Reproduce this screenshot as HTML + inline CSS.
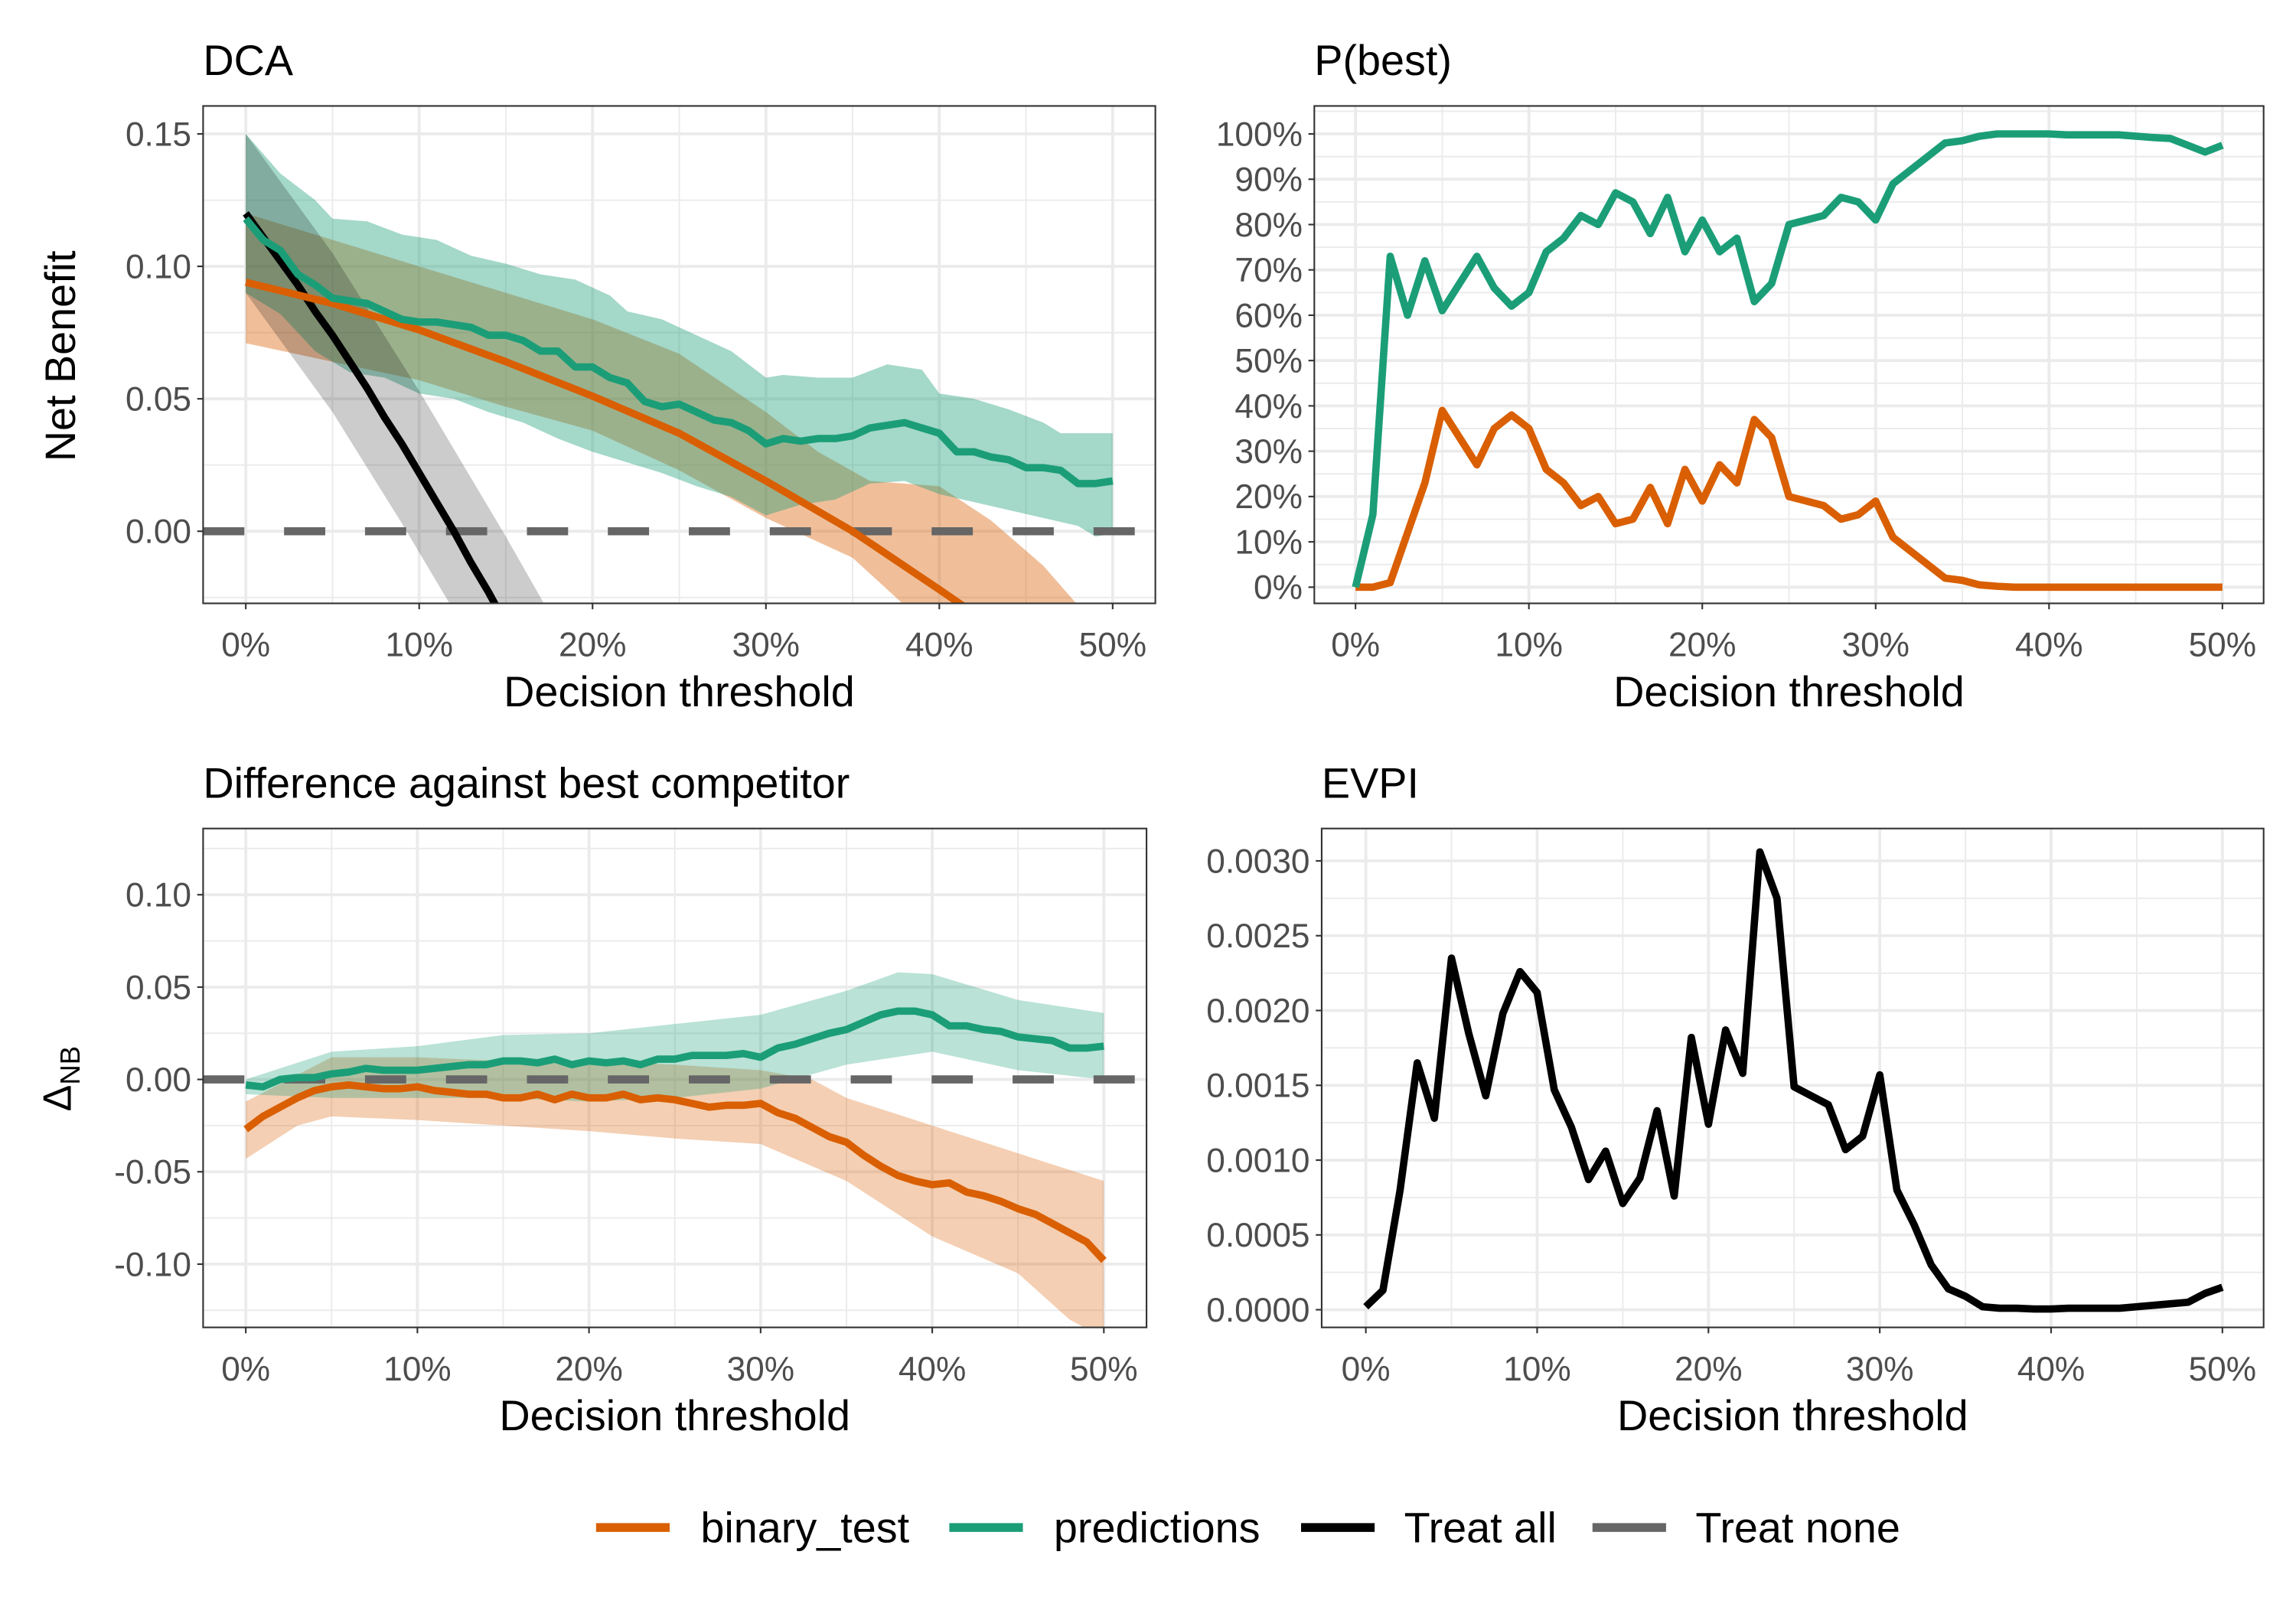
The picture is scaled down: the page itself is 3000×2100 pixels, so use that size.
<!DOCTYPE html>
<html><head><meta charset="utf-8"><style>
html,body{margin:0;padding:0;background:#fff}
svg{display:block}
text{font-family:"Liberation Sans",sans-serif}
</style></head><body>
<svg id="fig" width="3000" height="2100" viewBox="0 0 1560 1092" xmlns="http://www.w3.org/2000/svg"></svg>
<script>
// ---------- data ----------
const thresholds = Array.from({length:51},(_,i)=>i); // percent
const treatAllT = [0,1,2,3,4,5,6,7,8,9,10,11,12,13,14,15,16];
const treatAllNB = [0.12,0.111,0.102,0.093,0.083,0.074,0.064,0.054,0.043,0.033,0.022,0.011,0.0,-0.012,-0.023,-0.035,-0.047];
const treatAllUpT=[0,5,10,15,17,19]; const treatAllUp=[0.15,0.105,0.053,-0.002,-0.025,-0.05];
const treatAllLoT=[0,5,9,10,12,13]; const treatAllLo=[0.09,0.045,0.003,-0.008,-0.03,-0.04];
const predNB=[0.118,0.11,0.106,0.097,0.093,0.088,0.087,0.086,0.083,0.080,0.079,0.079,0.078,0.077,0.074,0.074,0.072,0.068,0.068,0.062,0.062,0.058,0.056,0.049,0.047,0.048,0.045,0.042,0.041,0.038,0.033,0.035,0.034,0.035,0.035,0.036,0.039,0.040,0.041,0.039,0.037,0.030,0.030,0.028,0.027,0.024,0.024,0.023,0.018,0.018,0.019];
const predUpT=[0,2,4,5,7,9,11,13,15,17,19,21,22,24,26,28,30,31,33,35,37,39,40,42,44,46,47,50];
const predUp=[0.15,0.135,0.125,0.118,0.117,0.112,0.110,0.104,0.101,0.097,0.095,0.089,0.083,0.080,0.074,0.068,0.058,0.059,0.058,0.058,0.063,0.061,0.052,0.050,0.046,0.041,0.037,0.037];
const predLoT=[0,2,4,6,8,10,12,14,16,18,20,22,24,26,28,30,32,34,36,38,40,42,44,46,48,49,50];
const predLo=[0.09,0.082,0.068,0.060,0.058,0.052,0.050,0.045,0.041,0.035,0.030,0.026,0.022,0.017,0.013,0.006,0.010,0.012,0.018,0.019,0.014,0.011,0.008,0.005,0.002,-0.002,-0.001];
const binT=[0,5,10,15,20,25,30,35,40,42,44];
const binNB=[0.094,0.086,0.076,0.064,0.051,0.037,0.019,0.0,-0.022,-0.031,-0.04];
const binUpT=[0,10,20,25,30,33,36,40,43,46,48,50]; const binUp=[0.12,0.10,0.080,0.067,0.045,0.030,0.019,0.017,0.004,-0.013,-0.028,-0.04];
const binLoT=[0,5,10,15,20,25,30,35,38,40]; const binLo=[0.071,0.064,0.057,0.047,0.038,0.023,0.005,-0.010,-0.028,-0.04];

const pbestPred=[0,16,73,60,72,61,67,73,66,62,65,74,77,82,80,87,85,78,86,74,81,74,77,63,67,80,81,82,86,85,81,89,92,95,98,98.5,99.5,100,100,100,100,99.8,99.8,99.8,99.8,99.5,99.2,99,97.5,96,97.5];
const pbestBin=[0,0,1,12,23,39,33,27,35,38,35,26,23,18,20,14,15,22,14,26,19,27,23,37,33,20,19,18,15,16,19,11,8,5,2,1.5,0.5,0.2,0,0,0,0,0,0,0,0,0,0,0,0,0];

const dPred=[-0.003,-0.004,0.0,0.001,0.001,0.003,0.004,0.006,0.005,0.005,0.005,0.006,0.007,0.008,0.008,0.010,0.010,0.009,0.011,0.008,0.010,0.009,0.010,0.008,0.011,0.011,0.013,0.013,0.013,0.014,0.012,0.017,0.019,0.022,0.025,0.027,0.031,0.035,0.037,0.037,0.035,0.029,0.029,0.027,0.026,0.023,0.022,0.021,0.017,0.017,0.018];
const dPredUpT=[0,5,10,15,20,25,30,35,38,40,45,50]; const dPredUp=[0.0,0.015,0.018,0.024,0.025,0.030,0.035,0.048,0.058,0.057,0.043,0.036];
const dPredLoT=[0,5,10,15,20,25,30,35,40,45,50]; const dPredLo=[-0.008,-0.010,-0.010,-0.010,-0.012,-0.010,-0.005,0.008,0.015,0.005,0.0];
const dBin=[-0.027,-0.02,-0.015,-0.010,-0.006,-0.004,-0.003,-0.004,-0.005,-0.005,-0.004,-0.006,-0.007,-0.008,-0.008,-0.010,-0.010,-0.008,-0.011,-0.008,-0.010,-0.010,-0.008,-0.011,-0.010,-0.011,-0.013,-0.015,-0.014,-0.014,-0.013,-0.018,-0.021,-0.026,-0.031,-0.034,-0.041,-0.047,-0.052,-0.055,-0.057,-0.056,-0.061,-0.063,-0.066,-0.070,-0.073,-0.078,-0.083,-0.088,-0.098];
const dBinUpT=[0,5,10,15,20,25,30,33,35,40,45,50]; const dBinUp=[-0.012,0.012,0.012,0.010,0.010,0.008,0.005,0.0,-0.010,-0.025,-0.040,-0.055];
const dBinLoT=[0,3,5,10,15,20,25,30,35,40,45,48,50]; const dBinLo=[-0.043,-0.025,-0.020,-0.022,-0.025,-0.028,-0.032,-0.035,-0.055,-0.085,-0.105,-0.130,-0.140];

const evpi=[0.00002,0.00013,0.0008,0.00165,0.00128,0.00235,0.00185,0.00143,0.00198,0.00226,0.00212,0.00147,0.00122,0.00087,0.00106,0.00071,0.00088,0.00133,0.00076,0.00182,0.00124,0.00187,0.00158,0.00306,0.00275,0.00149,0.00143,0.00137,0.00107,0.00116,0.00157,0.00080,0.00057,0.00030,0.00014,0.00009,0.00002,0.00001,0.00001,0.000005,0.000005,0.00001,0.00001,0.00001,0.00001,0.00002,0.00003,0.00004,0.00005,0.00011,0.00015,0.0001];

const xTicks=[0,10,20,30,40,50];
const xTickLabels=["0%","10%","20%","30%","40%","50%"];
const y1Ticks=[0,0.05,0.10,0.15]; const y1Labels=["0.00","0.05","0.10","0.15"];
const y2Ticks=[0,10,20,30,40,50,60,70,80,90,100]; const y2Labels=y2Ticks.map(v=>v+"%");
const y3Ticks=[-0.10,-0.05,0,0.05,0.10]; const y3Labels=["-0.10","-0.05","0.00","0.05","0.10"];
const y4Ticks=[0,0.0005,0.001,0.0015,0.002,0.0025,0.003]; const y4Labels=["0.0000","0.0005","0.0010","0.0015","0.0020","0.0025","0.0030"];

// ---------- drawing ----------
const NS="http://www.w3.org/2000/svg";
const fig=document.getElementById('fig');
function el(tag,attrs,parent){const e=document.createElementNS(NS,tag);for(const k in attrs)e.setAttribute(k,attrs[k]);(parent||fig).appendChild(e);return e;}
const OR="#d95f02", GR="#1b9e77";
const LW=5;
let clipId=0;
function panel(cfg){
  const g=el('g',{});
  
  
  const {L,R,T,B,x0,x1,y0,y1,v0,v1}=cfg;
  const sx=v=>x0+(x1-x0)*v/50;
  const sy=v=>y0+(y1-y0)*(v-v0)/(v1-v0);
  cfg.sx=sx; cfg.sy=sy;
  const grid=el('g',{},g);
  
  
  for(const m of cfg.yMinor){const y=sy(m); if(y>T&&y<B) el('line',{x1:L,x2:R,y1:y,y2:y,stroke:"#ebebeb","stroke-width":1},grid);}
  for(let m=5;m<=55;m+=10){const x=sx(m); if(x<R) el('line',{x1:x,x2:x,y1:T,y2:B,stroke:"#ebebeb","stroke-width":1},grid);}
  for(const m of cfg.yTicks){const y=sy(m); el('line',{x1:L,x2:R,y1:y,y2:y,stroke:"#ebebeb","stroke-width":2},grid);}
  for(const m of xTicks){const x=sx(m); el('line',{x1:x,x2:x,y1:T,y2:B,stroke:"#ebebeb","stroke-width":2},grid);}
  const cid='c'+(clipId++);
  const cp=el('clipPath',{id:cid},g); el('rect',{x:L,y:T,width:R-L,height:B-T},cp);
  const plot=el('g',{'clip-path':`url(#${cid})`},g);
  cfg.plot=plot;
  cfg.draw(cfg);
  el('rect',{x:L,y:T,width:R-L,height:B-T,fill:"none",stroke:"#333","stroke-width":1.1},g);
  xTicks.forEach((t,i)=>{const x=sx(t);
    el('line',{x1:x,x2:x,y1:B,y2:B+4,stroke:"#333","stroke-width":1.1},g);
    const tx=el('text',{x:x,y:B+36,'text-anchor':'middle','font-size':23,fill:"#4d4d4d"},g); tx.textContent=xTickLabels[i];
     });
  cfg.yTicks.forEach((t,i)=>{const y=sy(t);
    el('line',{x1:L-4,x2:L,y1:y,y2:y,stroke:"#333","stroke-width":1.1},g);
    const tx=el('text',{x:L-8,y:y+8,'text-anchor':'end','font-size':23,fill:"#4d4d4d"},g); tx.textContent=cfg.yLabels[i];
     });
  const xt=el('text',{x:(L+R)/2,y:B+70,'text-anchor':'middle','font-size':29,fill:"#000"},g); xt.textContent="Decision threshold";
   
  const tt=el('text',{x:L,y:T-21,'font-size':29,fill:"#000"},g); tt.textContent=cfg.title;
   
  return cfg;
}
function line(cfg,xs,ys,color,w,name,dash){
  const d=xs.map((x,i)=>(i?'L':'M')+cfg.sx(x).toFixed(2)+','+cfg.sy(ys[i]).toFixed(2)).join('');
  const p=el('path',{d:d,fill:'none',stroke:color,'stroke-width':w,'stroke-linejoin':'round'},cfg.plot);
  if(dash)p.setAttribute('stroke-dasharray',dash);
   
}
function band(cfg,ut,u,lt,lo,color,op,name){
  let d=ut.map((x,i)=>(i?'L':'M')+cfg.sx(x).toFixed(2)+','+cfg.sy(u[i]).toFixed(2)).join('');
  for(let i=lt.length-1;i>=0;i--) d+='L'+cfg.sx(lt[i]).toFixed(2)+','+cfg.sy(lo[i]).toFixed(2);
  const p=el('path',{d:d+'Z',fill:color,'fill-opacity':op,stroke:'none'},cfg.plot);
   
}
function hNone(cfg){
  const p=el('line',{x1:cfg.L,x2:cfg.R,y1:cfg.sy(0),y2:cfg.sy(0),stroke:'#666','stroke-width':5.5,'stroke-dasharray':'28 27'},cfg.plot);
   
}

panel({name:'dca-panel',title:'DCA',L:138,R:785,T:72,B:410,x0:167,x1:756,y0:361,y1:91,v0:0,v1:0.15,
  yTicks:y1Ticks,yLabels:y1Labels,yMinor:[-0.025,0.025,0.075,0.125],
  draw:c=>{
    band(c,binUpT,binUp,binLoT,binLo,OR,0.4,'binary-test-band');
    band(c,predUpT,predUp,predLoT,predLo,GR,0.4,'predictions-band');
    band(c,treatAllUpT,treatAllUp,treatAllLoT,treatAllLo,'#000',0.2,'treat-all-band');
    hNone(c);
    line(c,treatAllT,treatAllNB,'#000',LW,'treat-all-line');
    line(c,binT,binNB,OR,LW,'binary-test-line');
    line(c,thresholds,predNB,GR,LW,'predictions-line');
  }});
panel({name:'pbest-panel',title:'P(best)',L:893,R:1538,T:72,B:410,x0:921,x1:1510,y0:399,y1:91,v0:0,v1:100,
  yTicks:y2Ticks,yLabels:y2Labels,yMinor:[-5,5,15,25,35,45,55,65,75,85,95,105],
  draw:c=>{
    line(c,thresholds,pbestBin,OR,LW,'binary-test-pbest-line');
    line(c,thresholds,pbestPred,GR,LW,'predictions-pbest-line');
  }});
panel({name:'difference-panel',title:'Difference against best competitor',L:138,R:779,T:563,B:902,x0:167,x1:750,y0:859,y1:608,v0:-0.10,v1:0.10,
  yTicks:y3Ticks,yLabels:y3Labels,yMinor:[-0.125,-0.075,-0.025,0.025,0.075,0.125],
  draw:c=>{
    band(c,dBinUpT,dBinUp,dBinLoT,dBinLo,OR,0.3,'binary-test-diff-band');
    band(c,dPredUpT,dPredUp,dPredLoT,dPredLo,GR,0.3,'predictions-diff-band');
    hNone(c);
    line(c,thresholds,dBin,OR,LW,'binary-test-diff-line');
    line(c,thresholds,dPred,GR,LW,'predictions-diff-line');
  }});
panel({name:'evpi-panel',title:'EVPI',L:898,R:1538,T:563,B:902,x0:928,x1:1510,y0:890,y1:585,v0:0,v1:0.003,
  yTicks:y4Ticks,yLabels:y4Labels,yMinor:[0.00025,0.00075,0.00125,0.00175,0.00225,0.00275],
  draw:c=>{ line(c,thresholds,evpi,'#000',LW,'evpi-line'); }});

const yt1=el('text',{x:0,y:0,'font-size':29,'text-anchor':'middle',transform:'translate(51,242) rotate(-90)'});
yt1.textContent='Net Benefit';
 
const yt3=el('text',{x:0,y:0,'font-size':27,'text-anchor':'middle',transform:'translate(48,733) rotate(-90)'});
yt3.innerHTML='Δ<tspan font-size="19" dy="6">NB</tspan>';
 

const legendItems=[["binary_test",OR,405,476],["predictions",GR,645,716],["Treat all","#000",884,954],["Treat none","#666",1082,1152]];
const lg=el('g',{});
 
legendItems.forEach(([lab,col,kx,tx])=>{
  const k=el('line',{x1:kx,x2:kx+50,y1:1038,y2:1038,stroke:col,'stroke-width':6},lg);
   
  const t=el('text',{x:tx,y:1048,'font-size':29},lg); t.textContent=lab;
   
});
</script>
</body></html>
